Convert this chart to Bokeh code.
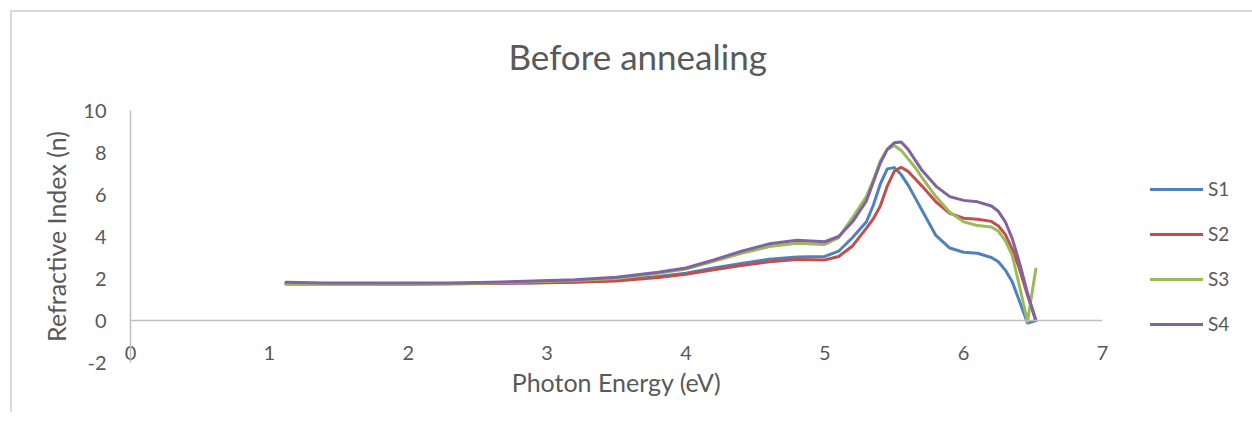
from bokeh.plotting import figure
from bokeh.models import Range1d, FixedTicker, Span, Legend, LegendItem, Title
from bokeh.embed import file_html
from bokeh.resources import INLINE

# Photon energy (eV)
energy = [1.12, 1.4, 1.7, 2.0, 2.3, 2.6, 2.9, 3.2, 3.5, 3.8, 4.0, 4.2, 4.4, 4.6, 4.8,
          5.0, 5.1, 5.2, 5.3, 5.35, 5.4, 5.45, 5.5, 5.55, 5.6, 5.65, 5.7, 5.8, 5.9,
          6.0, 6.1, 6.2, 6.25, 6.3, 6.35, 6.4, 6.46, 6.52]

# Refractive index (n) per sample
s1 = [1.75, 1.74, 1.74, 1.74, 1.75, 1.77, 1.80, 1.84, 1.92, 2.10, 2.25, 2.50, 2.72, 2.92, 3.02,
      3.05, 3.30, 3.95, 4.70, 5.50, 6.50, 7.22, 7.28, 6.95, 6.45, 5.85, 5.25, 4.05, 3.45,
      3.25, 3.20, 3.00, 2.80, 2.40, 1.85, 0.95, -0.12, 0.00]
s2 = [1.75, 1.74, 1.74, 1.74, 1.75, 1.76, 1.79, 1.82, 1.88, 2.05, 2.20, 2.42, 2.62, 2.80, 2.90,
      2.88, 3.05, 3.55, 4.40, 4.85, 5.45, 6.40, 7.10, 7.30, 7.10, 6.75, 6.40, 5.65, 5.10,
      4.87, 4.82, 4.72, 4.50, 4.10, 3.40, 2.50, 1.20, 0.00]
s3 = [1.72, 1.72, 1.73, 1.74, 1.76, 1.79, 1.84, 1.90, 2.00, 2.25, 2.45, 2.82, 3.20, 3.52, 3.68,
      3.62, 3.95, 4.90, 5.90, 6.70, 7.60, 8.15, 8.33, 8.10, 7.70, 7.30, 6.80, 5.90, 5.15,
      4.70, 4.52, 4.45, 4.25, 3.80, 3.10, 1.70, -0.05, 2.45]
s4 = [1.82, 1.78, 1.78, 1.78, 1.79, 1.82, 1.88, 1.94, 2.06, 2.30, 2.50, 2.88, 3.30, 3.65, 3.82,
      3.75, 4.00, 4.70, 5.70, 6.60, 7.50, 8.15, 8.46, 8.50, 8.15, 7.65, 7.15, 6.40, 5.90,
      5.72, 5.65, 5.45, 5.20, 4.70, 3.90, 2.80, 1.30, 0.00]

names = ["S1", "S2", "S3", "S4"]
colors = ["#4F81BD", "#C0504D", "#9BBB59", "#8064A2"]
x_ticks = [0, 1, 2, 3, 4, 5, 6, 7]
y_ticks = [-2, 0, 2, 4, 6, 8, 10]
title_text = "Before annealing"

FONT = "Lato"
TXT = "#595959"
AX = "#BFBFBF"

p = figure(frame_width=972, frame_height=252, output_backend="svg", toolbar_location=None,
           x_range=Range1d(0, 7), y_range=Range1d(-2, 10),
           min_border_left=118, min_border_top=98, min_border_right=138, min_border_bottom=50)
p.styles = {"border-top": "2px solid #D9D9D9", "border-left": "2px solid #D9D9D9",
            "margin-left": "10px", "margin-top": "10px"}

p.outline_line_color = None
p.xgrid.visible = False
p.ygrid.visible = False
p.background_fill_color = "white"
p.border_fill_color = "white"

# spacer between frame and title (closest to the frame)
spacer = Title(text=" ", text_font=FONT, text_font_size="1px", standoff=21)
p.add_layout(spacer, "above")
title = Title(text=title_text, align="left", offset=378, text_font=FONT,
              text_font_size="35px", text_font_style="normal", text_color=TXT, standoff=20)
p.add_layout(title, "above")

xa = p.xaxis[0]
xa.ticker = FixedTicker(ticks=x_ticks)
xa.axis_line_color = None
xa.major_tick_line_color = None
xa.minor_tick_line_color = None
xa.major_tick_out = 0
xa.major_tick_in = 0
xa.major_label_standoff = -17
xa.major_label_text_font = FONT
xa.major_label_text_font_size = "20px"
xa.major_label_text_color = TXT
xa.axis_label = "Photon Energy (eV)"
xa.axis_label_text_font = FONT
xa.axis_label_text_font_size = "25px"
xa.axis_label_text_font_style = "normal"
xa.axis_label_text_color = TXT
xa.axis_label_standoff = 4

ya = p.yaxis[0]
ya.ticker = FixedTicker(ticks=y_ticks)
ya.major_label_overrides = {t: str(t) for t in y_ticks}
ya.axis_line_color = AX
ya.axis_line_width = 1.5
ya.major_tick_line_color = None
ya.minor_tick_line_color = None
ya.major_tick_out = 0
ya.major_tick_in = 0
ya.major_label_standoff = 24
ya.major_label_text_font = FONT
ya.major_label_text_font_size = "20px"
ya.major_label_text_color = TXT
ya.axis_label = "Refractive Index (n)"
ya.axis_label_text_font = FONT
ya.axis_label_text_font_size = "25px"
ya.axis_label_text_font_style = "normal"
ya.axis_label_text_color = TXT
ya.axis_label_standoff = 9

p.add_layout(Span(location=0, dimension="width", line_color=AX, line_width=1.5))

items = []
for name, col, ys in zip(names, colors, [s1, s2, s3, s4]):
    r = p.line(energy, ys, line_color=col, line_width=3, line_join="round", line_cap="round")
    items.append(LegendItem(label=name, renderers=[r]))

legend = Legend(items=items, location=(48, 27), orientation="vertical")
legend.border_line_color = None
legend.background_fill_alpha = 0
legend.margin = 0
legend.padding = 10
legend.spacing = 22
legend.glyph_height = 20
legend.glyph_width = 53
legend.label_height = 20
legend.label_standoff = 5
legend.label_text_font = FONT
legend.label_text_font_size = "19px"
legend.label_text_color = TXT
p.add_layout(legend, "right")

open("out.html", "w").write(file_html(p, INLINE))
